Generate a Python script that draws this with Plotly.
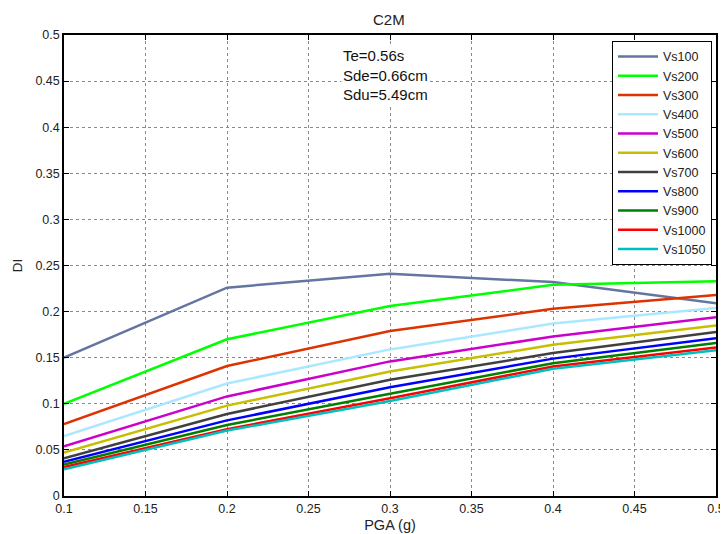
import plotly.graph_objects as go

pga = [0.1, 0.2, 0.3, 0.4, 0.5]
names = ["Vs100", "Vs200", "Vs300", "Vs400", "Vs500", "Vs600",
         "Vs700", "Vs800", "Vs900", "Vs1000", "Vs1050"]
vs100 = [0.150, 0.226, 0.241, 0.232, 0.209]
vs200 = [0.100, 0.170, 0.206, 0.229, 0.233]
vs300 = [0.078, 0.141, 0.179, 0.203, 0.218]
vs400 = [0.065, 0.122, 0.159, 0.187, 0.204]
vs500 = [0.054, 0.108, 0.146, 0.173, 0.194]
vs600 = [0.047, 0.098, 0.135, 0.164, 0.185]
vs700 = [0.041, 0.089, 0.126, 0.155, 0.178]
vs800 = [0.037, 0.082, 0.118, 0.149, 0.171]
vs900 = [0.034, 0.077, 0.111, 0.144, 0.166]
vs1000 = [0.0315, 0.0725, 0.106, 0.1405, 0.161]
vs1050 = [0.029, 0.071, 0.103, 0.138, 0.158]
series = [vs100, vs200, vs300, vs400, vs500, vs600, vs700, vs800, vs900, vs1000, vs1050]
colors = ["#6375A0", "#00FF00", "#DD3300", "#AAE8FF", "#CC00CC", "#C8BE00",
          "#404040", "#0000FF", "#007F00", "#FF0000", "#00BFBF"]

FONT = "Liberation Sans, Arial"

fig = go.Figure()
for n, s, c in zip(names, series, colors):
    fig.add_trace(go.Scatter(x=pga, y=s, mode="lines", name=n,
                             line=dict(color=c, width=2.5)))

axis_common = dict(showline=True, linecolor="black", linewidth=1.5, mirror="ticks",
                   ticks="inside", ticklen=5, tickcolor="black", automargin=False,
                   showgrid=True, gridcolor="#8a8a8a", griddash="dot", gridwidth=1,
                   zeroline=False, tickfont=dict(family=FONT, size=12.5, color="#222"))

# page has an 8px body margin, so the figure is 720x526 placed at (8, 8)
fig.update_layout(
    width=720, height=526,
    margin=dict(l=56, r=12, t=27, b=38, autoexpand=False),
    paper_bgcolor="white", plot_bgcolor="white",
    title=dict(text="C2M", x=0.529, xanchor="center", y=0.977, yanchor="middle",
               font=dict(family=FONT, size=15, color="#222")),
    xaxis=dict(range=[0.1, 0.5], tickvals=[0.1, 0.15, 0.2, 0.25, 0.3, 0.35, 0.4, 0.45, 0.5],
               ticktext=["0.1", "0.15", "0.2", "0.25", "0.3", "0.35", "0.4", "0.45", "0.5"],
               title=dict(text="PGA (g)", standoff=5,
                          font=dict(family=FONT, size=14.5, color="#222")),
               **axis_common),
    yaxis=dict(range=[0, 0.5], tickvals=[0, 0.05, 0.1, 0.15, 0.2, 0.25, 0.3, 0.35, 0.4, 0.45, 0.5],
               ticktext=["0", "0.05", "0.1", "0.15", "0.2", "0.25", "0.3", "0.35", "0.4", "0.45", "0.5"],
               title=dict(text="DI", standoff=10,
                          font=dict(family=FONT, size=13.5, color="#222")),
               **axis_common),
    legend=dict(x=0.8405, y=0.987, xanchor="left", yanchor="top",
                bgcolor="white", bordercolor="black", borderwidth=1,
                font=dict(family=FONT, size=12.5, color="#222"),
                tracegroupgap=0, itemwidth=40, entrywidth=63, entrywidthmode="pixels"),
    showlegend=True,
)

fig.add_annotation(x=0.270, y=0.4566, xref="x", yref="y", xanchor="left", yanchor="middle",
                   align="left", showarrow=False, bgcolor="white",
                   text="Te=0.56s<br>Sde=0.66cm<br>Sdu=5.49cm",
                   font=dict(family=FONT, size=15, color="#111"))

fig.write_html("out.html")
